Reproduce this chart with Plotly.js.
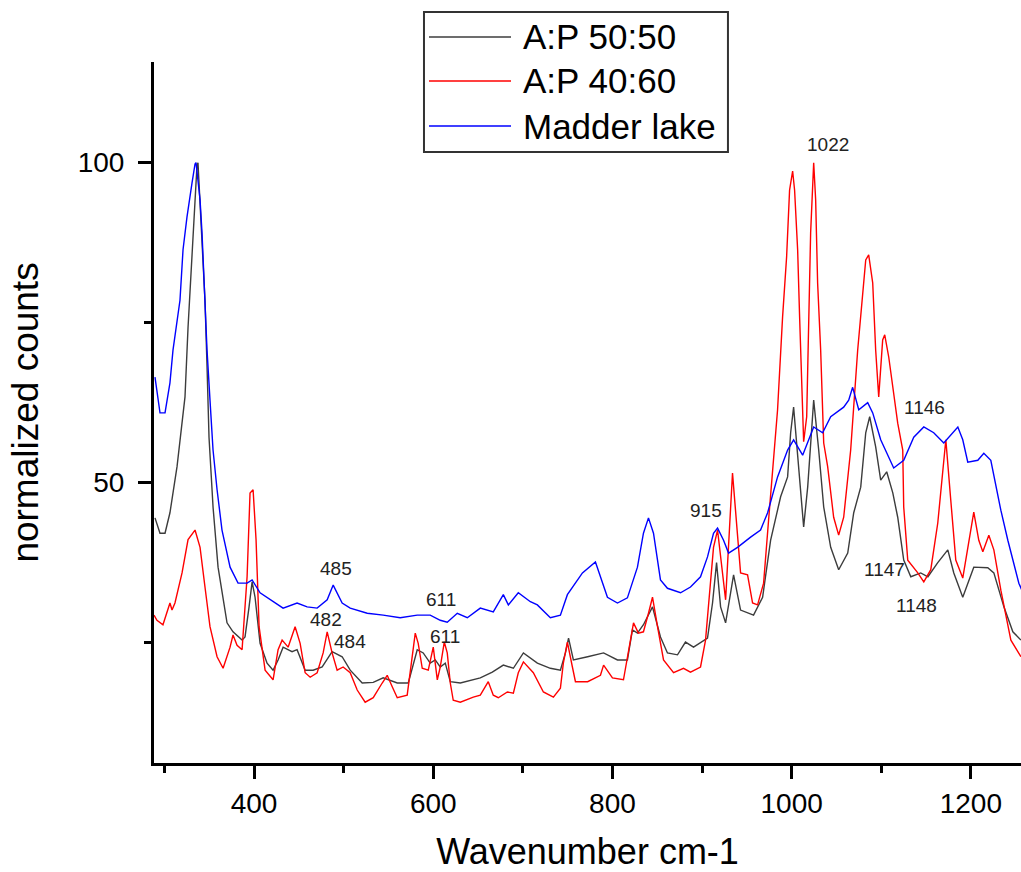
<!DOCTYPE html>
<html>
<head>
<meta charset="utf-8">
<script src="https://cdn.plot.ly/plotly-3.0.1.min.js"></script>
<style>html,body{margin:0;padding:0;background:#fff;}#chart{width:1021px;height:872px;}</style>
</head>
<body>
<div id="chart"></div>
<script>
// Series names
const seriesNames = ["A:P 50:50", "A:P 40:60", "Madder lake"];

// A:P 50:50 (black)
const ap5050X = [289.4,295.0,300.6,306.1,314.0,319.6,322.9,326.3,329.6,331.8,
334.1,336.3,337.4,338.5,341.9,345.2,347.5,349.7,354.2,359.8,
369.8,376.5,386.6,389.9,394.4,397.8,401.1,406.7,414.5,421.2,
426.8,432.4,442.4,448.0,457.0,465.9,476.0,487.1,498.3,507.3,
520.7,533.0,544.1,559.8,572.1,582.1,588.8,596.6,602.2,607.8,
613.4,619.0,630.2,652.5,665.9,678.2,689.4,700.6,716.2,730.7,
741.9,747.5,751.0,756.4,772.3,790.1,805.6,816.7,822.3,827.9,
834.6,844.7,853.6,861.4,872.6,881.5,890.5,906.1,911.7,916.2,
920.7,926.3,935.2,943.0,957.5,967.6,976.5,987.7,995.5,998.9,
1002.2,1007.8,1013.4,1017.9,1024.6,1030.2,1035.8,1043.6,1052.5,1062.6,
1069.3,1077.1,1082.7,1087.1,1093.8,1099.4,1106.1,1112.9,1118.4,1125.1,
1133.0,1144.1,1152.1,1163.1,1174.3,1181.0,1191.0,1203.3,1218.9,1225.7,
1236.9,1246.9,1255.9];
const ap5050Y = [44.5,42.1,42.1,45.3,52.5,59.3,63.4,74.3,82.8,89.0,
94.5,99.6,100.0,96.8,89.0,78.5,68.1,57.1,46.2,36.8,
28.1,26.7,25.4,25.9,30.6,34.5,32.1,24.9,21.8,20.7,
22.3,24.3,23.6,23.9,20.7,20.7,21.2,23.6,22.8,20.7,
18.7,18.8,19.5,18.7,18.7,23.9,23.4,21.8,22.3,21.2,
21.8,18.9,18.7,19.5,20.4,21.5,21.0,23.4,21.8,21.0,
20.7,23.4,25.7,22.3,22.8,23.4,22.3,22.3,27.0,26.5,
27.8,30.6,25.9,23.4,23.1,25.1,24.3,25.7,31.2,37.5,
30.6,28.1,35.6,30.1,29.3,32.1,41.0,47.8,50.9,57.8,
61.8,52.5,43.1,49.3,62.9,55.1,46.2,39.9,36.4,39.0,
45.3,49.3,57.8,60.3,55.6,50.4,51.7,48.4,44.6,37.9,
35.3,35.9,35.3,37.5,39.5,35.9,32.1,36.8,36.7,35.9,
30.6,26.7,25.4];

// A:P 40:60 (red)
const ap4060X = [288.3,291.6,298.3,303.9,306.1,308.4,311.7,319.6,326.3,334.1,
339.7,345.2,350.8,358.7,365.4,373.2,376.5,381.0,386.6,392.2,
395.5,398.9,402.2,405.6,412.3,421.2,426.8,431.3,438.0,445.8,
451.4,457.0,462.6,470.4,477.1,481.6,487.1,492.7,499.4,507.3,
515.1,524.0,533.0,543.0,548.6,554.2,559.8,570.9,574.3,579.9,
583.2,587.7,594.4,600.0,604.5,607.8,612.3,615.6,619.0,622.3,
630.2,644.7,652.5,661.4,667.0,672.6,682.7,689.4,694.9,700.6,
711.7,722.9,734.1,741.9,745.2,749.7,755.3,758.7,772.3,786.6,
790.1,800.0,812.3,817.9,823.5,829.0,834.6,840.2,844.7,850.3,
857.0,868.2,879.3,887.1,898.3,903.9,908.4,912.8,917.3,920.7,
926.3,934.0,939.6,943.0,950.8,956.4,962.0,968.7,974.3,978.7,
984.3,989.9,994.4,997.7,1001.1,1003.3,1006.7,1008.9,1013.4,1016.8,
1018.9,1021.2,1024.6,1026.8,1029.0,1032.4,1035.8,1040.2,1046.9,1052.5,
1058.1,1065.9,1073.7,1079.3,1082.7,1086.0,1090.5,1093.8,1097.2,1101.6,
1103.9,1108.4,1112.9,1118.4,1124.0,1125.1,1129.6,1140.8,1147.5,1155.3,
1163.1,1168.7,1172.1,1177.6,1183.2,1191.0,1196.6,1203.3,1208.9,1213.4,
1220.1,1225.7,1233.5,1244.7,1255.9];
const ap4060Y = [29.3,28.5,27.8,30.1,31.2,30.1,31.2,35.9,41.1,42.6,
39.9,33.7,27.5,22.8,21.0,24.3,26.2,24.6,23.9,35.3,
48.4,48.9,41.1,27.5,20.7,19.2,23.9,25.4,24.3,27.5,
24.9,20.3,19.6,20.3,23.4,26.7,23.4,20.7,21.2,20.3,
17.6,15.7,16.4,18.7,19.9,18.1,16.4,16.8,20.3,26.5,
24.9,21.0,20.7,24.3,19.2,21.2,25.1,23.4,18.7,16.0,
15.7,16.5,16.8,18.9,16.8,16.4,17.3,17.1,20.3,22.0,
20.3,17.3,16.5,17.9,21.8,25.1,21.2,18.9,18.9,19.9,
21.5,19.5,19.2,23.4,28.1,26.5,26.7,29.6,32.1,27.5,
22.3,20.3,21.0,20.4,21.2,25.4,33.2,39.9,42.6,38.4,
31.7,51.5,42.1,35.9,35.6,31.2,30.9,34.3,44.2,52.0,
61.4,75.9,85.3,95.7,98.7,95.7,86.4,75.9,56.4,60.3,
75.9,89.0,100.0,94.2,81.2,70.7,56.2,52.5,44.6,41.8,
44.6,55.1,70.7,79.6,84.8,85.6,81.2,70.7,63.4,72.3,
73.1,69.6,65.0,59.3,55.1,46.2,37.9,35.9,34.5,36.4,
43.7,51.5,56.7,47.3,37.9,35.1,39.9,45.4,41.0,39.2,
41.8,39.5,33.2,25.4,22.8];

// Madder lake (blue)
const madderX = [289.4,295.0,300.6,306.1,309.5,314.0,317.3,320.7,325.1,330.7,
334.1,335.2,339.7,341.9,345.2,347.5,350.8,354.2,358.7,364.2,
373.2,382.1,392.2,397.8,406.7,417.9,432.4,448.0,459.2,470.4,
481.6,488.3,498.3,507.3,526.3,544.1,563.1,582.1,596.6,607.8,
615.6,626.8,638.0,652.5,667.0,678.2,683.8,694.9,708.4,716.2,
730.7,741.9,749.7,766.5,781.0,794.4,805.6,816.7,827.9,834.6,
840.2,845.8,853.6,861.4,876.0,887.1,898.3,906.1,912.8,917.3,
924.0,929.6,939.6,954.2,965.3,973.2,984.3,995.5,1002.2,1012.3,
1024.6,1034.6,1043.6,1058.1,1063.7,1068.1,1074.9,1084.9,1090.5,1099.4,
1113.9,1125.1,1136.3,1147.5,1158.6,1169.8,1177.6,1185.5,1191.0,1196.6,
1207.8,1214.5,1222.3,1233.5,1241.3,1253.6,1257.0];
const madderY = [66.5,60.9,60.9,65.6,70.7,75.4,78.5,86.4,91.5,96.8,
99.8,100.0,94.2,89.0,78.5,70.7,62.9,55.1,48.9,42.6,
36.8,34.3,34.3,34.8,32.8,31.7,30.4,31.2,30.6,30.4,
31.7,34.0,31.2,30.4,29.6,29.3,28.9,29.3,29.3,28.5,
28.2,29.6,28.9,30.4,29.8,32.5,30.9,32.8,31.4,30.9,
28.9,29.3,32.5,35.9,37.6,32.1,31.2,32.0,36.8,42.1,
44.5,42.1,34.8,33.5,32.8,33.7,35.3,38.4,42.1,42.9,
41.0,39.0,39.9,41.5,42.6,45.3,50.9,55.1,56.7,54.3,
58.7,57.8,60.3,61.8,62.9,64.9,61.4,62.5,60.9,56.7,
52.3,53.5,57.1,58.7,57.8,56.2,57.4,58.7,56.7,53.2,
53.5,54.6,53.5,45.7,41.0,34.3,33.2];

// Peak labels
const peakLabels = ["1022","1146","915","1147","1148","485","611","482","484","611"];
const peakX = [1040.2,1148.6,903.9,1103.9,1139.6,491.6,608.9,480.4,506.7,613.4];
const peakY = [102.9,61.7,45.6,36.4,30.8,36.6,31.7,28.6,25.2,26.0];

// Axis tick values
const xTicks = [400,600,800,1000,1200];
const yTicks = [50,100];

const colors = ["#3c3c3c", "#ff0000", "#0000ff"];
const FONT = "Liberation Sans, Arial, sans-serif";

const traces = [
  {x: ap5050X, y: ap5050Y, name: seriesNames[0], mode: "lines", line: {color: colors[0], width: 1.4}},
  {x: ap4060X, y: ap4060Y, name: seriesNames[1], mode: "lines", line: {color: colors[1], width: 1.4}},
  {x: madderX, y: madderY, name: seriesNames[2], mode: "lines", line: {color: colors[2], width: 1.4}}
];

// Manual legend (paper coordinates)
const legRows = [1.0357, 0.9729, 0.9087];
const shapes = [{
  type: "rect", xref: "paper", yref: "paper",
  x0: 0.3114, x1: 0.6620, y0: 0.8716, y1: 1.0713,
  line: {color: "#333", width: 2}, fillcolor: "rgba(255,255,255,1)", layer: "above"
}];
const annotations = [];
legRows.forEach((yy, i) => {
  shapes.push({type: "line", xref: "paper", yref: "paper", x0: 0.3172, x1: 0.4118, y0: yy, y1: yy,
    line: {color: colors[i], width: 1.5}, layer: "above"});
  annotations.push({xref: "paper", yref: "paper", x: 0.4233, y: yy, xanchor: "left", yanchor: "middle",
    text: seriesNames[i], showarrow: false, font: {family: FONT, size: 35, color: "#000"}});
});
peakLabels.forEach((t, i) => {
  annotations.push({x: peakX[i], y: peakY[i], xref: "x", yref: "y", text: t, showarrow: false,
    xanchor: "center", yanchor: "middle", font: {family: FONT, size: 19, color: "#222"}});
});

const layout = {
  width: 1021, height: 872,
  margin: {l: 154, r: 0, t: 62, b: 109, pad: 0},
  paper_bgcolor: "#fff", plot_bgcolor: "#fff",
  showlegend: false,
  font: {family: FONT, color: "#000"},
  xaxis: {
    range: [288.3, 1256], autorange: false,
    showline: true, linecolor: "#000", linewidth: 3, mirror: false,
    showgrid: false, zeroline: false,
    ticks: "outside", ticklen: 13, tickwidth: 3, tickcolor: "#000",
    tickmode: "array", tickvals: xTicks,
    minor: {tickmode: "linear", tick0: 300, dtick: 100, ticks: "outside", ticklen: 7, tickwidth: 3, tickcolor: "#000", showgrid: false},
    tickfont: {family: FONT, size: 28, color: "#000"},
    title: {text: "Wavenumber cm-1", font: {family: FONT, size: 36, color: "#000"}, standoff: 24},
    automargin: false
  },
  yaxis: {
    range: [6.2, 115.73], autorange: false,
    showline: true, linecolor: "#000", linewidth: 3, mirror: false,
    showgrid: false, zeroline: false,
    ticks: "outside", ticklen: 13, tickwidth: 3, tickcolor: "#000",
    tickmode: "array", tickvals: yTicks,
    minor: {tickmode: "linear", tick0: 0, dtick: 25, ticks: "outside", ticklen: 7, tickwidth: 3, tickcolor: "#000", showgrid: false},
    tickfont: {family: FONT, size: 28, color: "#000"},
    ticklabelstandoff: 8,
    title: {text: "normalized counts", font: {family: FONT, size: 37, color: "#000"}, standoff: 28},
    automargin: false
  },
  shapes: shapes,
  annotations: annotations
};

Plotly.newPlot("chart", traces, layout, {displayModeBar: false, staticPlot: true});
</script>
</body>
</html>
